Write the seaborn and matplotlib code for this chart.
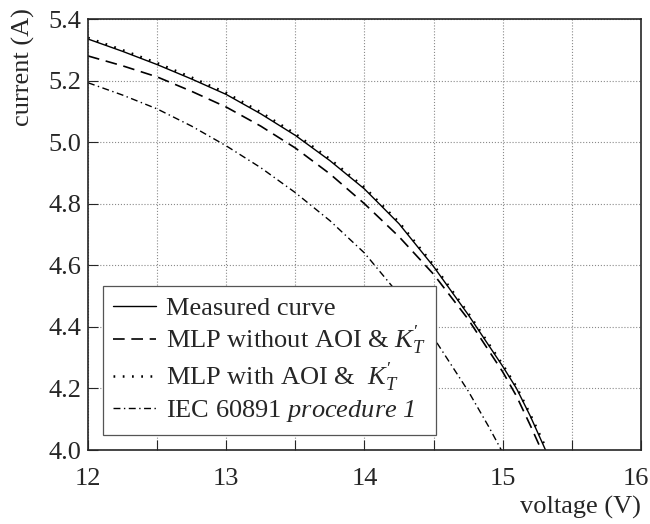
import numpy as np
import pandas as pd
import seaborn as sns
import matplotlib.pyplot as plt
from matplotlib.transforms import ScaledTranslation

v_meas = [12.0, 12.25, 12.5, 12.75, 13.0, 13.25, 13.5, 13.75, 14.0, 14.25, 14.5, 14.75, 15.0, 15.1, 15.2, 15.31]
i_meas = [5.335, 5.295, 5.252, 5.205, 5.155, 5.092, 5.022, 4.940, 4.848, 4.735, 4.596, 4.440, 4.272, 4.200, 4.110, 4.000]

v_mlp = [12.0, 12.25, 12.5, 12.75, 13.0, 13.25, 13.5, 13.75, 14.0, 14.25, 14.5, 14.75, 15.0, 15.1, 15.2, 15.28]
i_mlp = [5.280, 5.248, 5.212, 5.165, 5.114, 5.052, 4.981, 4.897, 4.800, 4.693, 4.571, 4.425, 4.254, 4.175, 4.080, 4.000]

v_aoi = [12.0, 12.25, 12.5, 12.75, 13.0, 13.25, 13.5, 13.75, 14.0, 14.25, 14.5, 14.75, 15.0, 15.1, 15.2, 15.32]
i_aoi = [5.339, 5.299, 5.257, 5.210, 5.160, 5.097, 5.027, 4.945, 4.853, 4.740, 4.601, 4.445, 4.277, 4.205, 4.115, 4.000]

v_iec = [12.0, 12.25, 12.5, 12.75, 13.0, 13.25, 13.5, 13.75, 14.0, 14.25, 14.5, 14.75, 14.9, 14.99]
i_iec = [5.193, 5.153, 5.108, 5.052, 4.988, 4.917, 4.836, 4.745, 4.640, 4.505, 4.365, 4.192, 4.075, 4.000]

labels = ["Measured curve",
          r"MLP without AOI & $K_T^{\prime}$",
          r"MLP with AOI &  $K_T^{\prime}$",
          r"IEC 60891 $\mathsf{procedure\ 1}$"]

sns.set_style("ticks")
plt.rcParams['font.family'] = ['Liberation Serif', 'DejaVu Serif']
plt.rcParams['mathtext.fontset'] = 'custom'
plt.rcParams['mathtext.rm'] = 'Liberation Serif'
plt.rcParams['mathtext.it'] = 'Liberation Serif:italic'
plt.rcParams['mathtext.sf'] = 'Liberation Serif:italic'
plt.rcParams['font.size'] = 19

fig = plt.figure(figsize=(6.5, 5.24), dpi=100)
ax = fig.add_axes([0.1354, 0.1412, 0.8506, 0.8225])

sns.lineplot(x=v_meas, y=i_meas, ax=ax, color='black', lw=1.0, label=labels[0])
sns.lineplot(x=v_mlp, y=i_mlp, ax=ax, color='black', lw=1.2, label=labels[1])
sns.lineplot(x=v_aoi, y=i_aoi, ax=ax, color='black', lw=1.8, label=labels[2])
sns.lineplot(x=v_iec, y=i_iec, ax=ax, color='black', lw=1.0, label=labels[3])
lines = ax.get_lines()
lines[1].set_dashes((7, 4))
lines[2].set_dashes((0.7, 3))
lines[3].set_dashes((5, 2.5, 1, 2.5))

ax.set_xlim(12, 16)
ax.set_ylim(4.0, 5.4)
ax.set_xticks(np.arange(12, 16.01, 0.5))
ax.set_xticklabels(['12', '', '13', '', '14', '', '15', '', '16'])
ax.set_yticks(np.arange(4.0, 5.41, 0.2))
ax.set_yticklabels([f"{t:.1f}" for t in np.arange(4.0, 5.41, 0.2)])
ax.tick_params(direction='in', length=7.5, width=0.8, labelsize=19)
ax.tick_params(axis='x', pad=13)
ax.tick_params(axis='y', pad=5)
ax.grid(True, linestyle=':', color='#8a8a8a', lw=0.8)
for s in ax.spines.values():
    s.set_linewidth(1.2)

# keep the "16" inside the figure, as in the reference
lab16 = ax.xaxis.get_major_ticks()[-1].label1
lab16.set_transform(lab16.get_transform() + ScaledTranslation(-0.05, 0, fig.dpi_scale_trans))

ax.set_xlabel('voltage (V)', fontsize=19)
ax.set_ylabel('current (A)', fontsize=19)
ax.xaxis.set_label_coords(1.0, -0.107)
ax.xaxis.label.set_horizontalalignment('right')
ax.yaxis.set_label_coords(-0.137, 1.025)
ax.yaxis.label.set_verticalalignment('top')
ax.yaxis.label.set_horizontalalignment('right')

leg = ax.legend(loc='lower left', bbox_to_anchor=(0.027, 0.035), borderaxespad=0,
                fancybox=False, framealpha=1, edgecolor='#555555', fontsize=19,
                handlelength=1.6, handletextpad=0.4, labelspacing=0.15, borderpad=0.4)
leg.get_frame().set_linewidth(0.9)

plt.savefig('out.png', dpi=100)
